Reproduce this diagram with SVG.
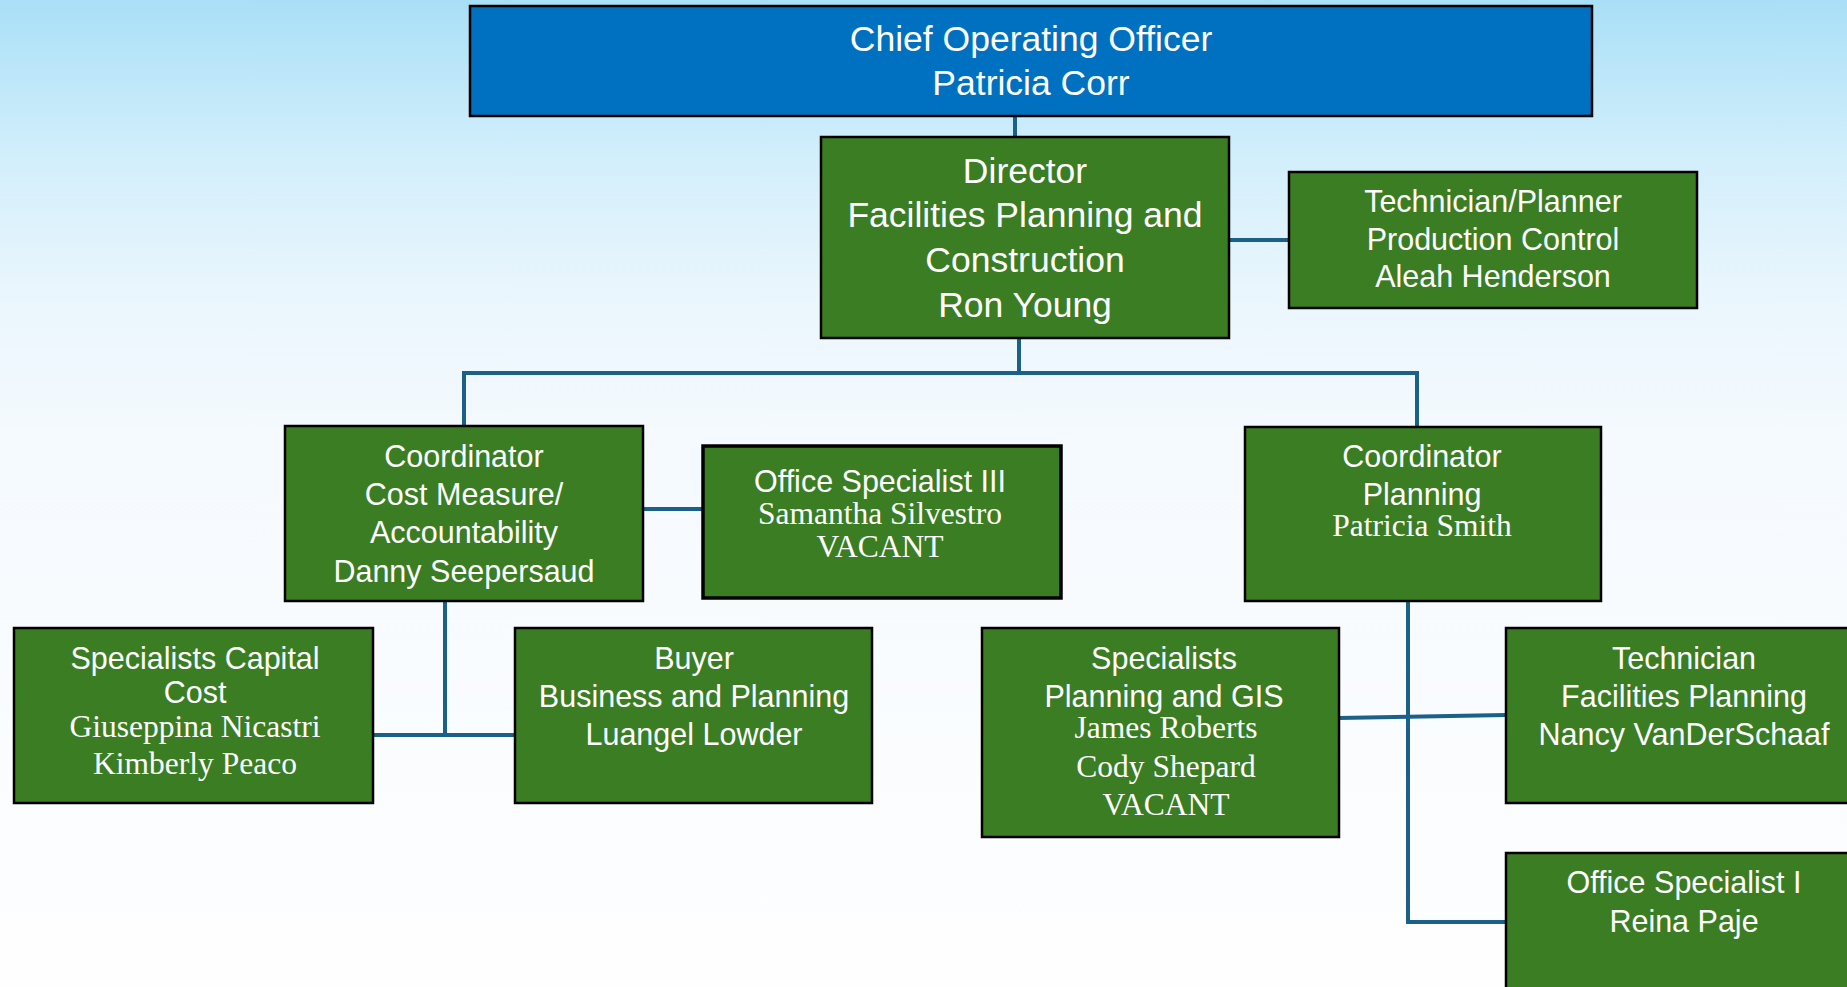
<svg xmlns="http://www.w3.org/2000/svg" width="1847" height="987" viewBox="0 0 1847 987">
<defs>
<linearGradient id="bg" x1="0" y1="0" x2="0" y2="1">
<stop offset="0" stop-color="#a9dff7"/>
<stop offset="0.15" stop-color="#d0eefb"/>
<stop offset="0.3" stop-color="#eaf6fd"/>
<stop offset="0.45" stop-color="#f5fafe"/>
<stop offset="1" stop-color="#fefefe"/>
</linearGradient>
</defs>
<style>
.box{fill:#3b7d23;stroke:#000;stroke-width:2.5}
.blue{fill:#0070c0;stroke:#000;stroke-width:2.5}
.thick{stroke-width:3.5}
.s{font-family:"Liberation Sans",Arial,sans-serif;fill:#fff;text-anchor:middle;font-size:30.5px}
.big{font-size:35.5px}
.r{font-family:"Liberation Serif","Times New Roman",serif;fill:#fff;text-anchor:middle;font-size:31.5px}
.c{fill:none;stroke:#1b6089;stroke-width:4}
</style>
<rect width="1847" height="987" fill="url(#bg)"/>
<g id="connectors">
<line class="c" x1="1015" y1="116" x2="1015" y2="137"/>
<line class="c" x1="1019" y1="338" x2="1019" y2="373"/>
<polyline class="c" points="464,426 464,373 1417,373 1417,427"/>
<line class="c" x1="1229" y1="240" x2="1289" y2="240"/>
<line class="c" x1="643" y1="509" x2="703" y2="509"/>
<line class="c" x1="445" y1="601" x2="445" y2="735"/>
<line class="c" x1="373" y1="735" x2="515" y2="735"/>
<polyline class="c" points="1408,601 1408,922 1506,922"/>
<line class="c" x1="1339" y1="718" x2="1506" y2="715"/>
</g>
<g id="coo">
<rect class="blue" x="470" y="6" width="1122" height="110"/>
<text class="s big" x="1031" y="51">Chief Operating Officer</text>
<text class="s big" x="1031" y="95">Patricia Corr</text>
</g>
<g id="director">
<rect class="box" x="821" y="137" width="408" height="201"/>
<text class="s big" x="1025" y="183">Director</text>
<text class="s big" x="1025" y="227">Facilities Planning and</text>
<text class="s big" x="1025" y="272">Construction</text>
<text class="s big" x="1025" y="317">Ron Young</text>
</g>
<g id="tech-planner">
<rect class="box" x="1289" y="172" width="408" height="136"/>
<text class="s" x="1493" y="212">Technician/Planner</text>
<text class="s" x="1493" y="250">Production Control</text>
<text class="s" x="1493" y="287">Aleah Henderson</text>
</g>
<g id="coord-cost">
<rect class="box" x="285" y="426" width="358" height="175"/>
<text class="s" x="464" y="467">Coordinator</text>
<text class="s" x="464" y="505">Cost Measure/</text>
<text class="s" x="464" y="543">Accountability</text>
<text class="s" x="464" y="582">Danny Seepersaud</text>
</g>
<g id="office-spec-3">
<rect class="box thick" x="703" y="446" width="358" height="152"/>
<text class="s" x="880" y="492">Office Specialist III</text>
<text class="r" x="880" y="524">Samantha Silvestro</text>
<text class="r" x="880" y="557">VACANT</text>
</g>
<g id="coord-planning">
<rect class="box" x="1245" y="427" width="356" height="174"/>
<text class="s" x="1422" y="467">Coordinator</text>
<text class="s" x="1422" y="505">Planning</text>
<text class="r" x="1422" y="536">Patricia Smith</text>
</g>
<g id="spec-capital">
<rect class="box" x="14" y="628" width="359" height="175"/>
<text class="s" x="195" y="669">Specialists Capital</text>
<text class="s" x="195" y="703">Cost</text>
<text class="r" x="195" y="737">Giuseppina Nicastri</text>
<text class="r" x="195" y="774">Kimberly Peaco</text>
</g>
<g id="buyer">
<rect class="box" x="515" y="628" width="357" height="175"/>
<text class="s" x="694" y="669">Buyer</text>
<text class="s" x="694" y="707">Business and Planning</text>
<text class="s" x="694" y="745">Luangel Lowder</text>
</g>
<g id="spec-gis">
<rect class="box" x="982" y="628" width="357" height="209"/>
<text class="s" x="1164" y="669">Specialists</text>
<text class="s" x="1164" y="707">Planning and GIS</text>
<text class="r" x="1166" y="738">James Roberts</text>
<text class="r" x="1166" y="777">Cody Shepard</text>
<text class="r" x="1166" y="815">VACANT</text>
</g>
<g id="technician">
<rect class="box" x="1506" y="628" width="360" height="175"/>
<text class="s" x="1684" y="669">Technician</text>
<text class="s" x="1684" y="707">Facilities Planning</text>
<text class="s" x="1684" y="745">Nancy VanDerSchaaf</text>
</g>
<g id="office-spec-1">
<rect class="box" x="1506" y="853" width="360" height="150"/>
<text class="s" x="1684" y="893">Office Specialist I</text>
<text class="s" x="1684" y="932">Reina Paje</text>
</g>
</svg>
